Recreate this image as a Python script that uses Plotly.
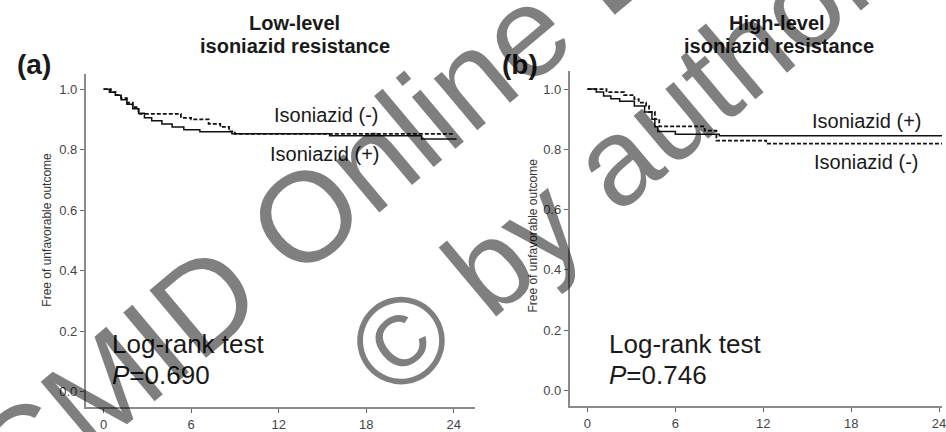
import plotly.graph_objects as go

# ---- data ----
months_ticks = [0, 6, 12, 18, 24]
surv_ticks = [0.0, 0.2, 0.4, 0.6, 0.8, 1.0]
surv_tick_labels = ["0.0", "0.2", "0.4", "0.6", "0.8", "1.0"]

# Panel (a) low-level isoniazid resistance
a_neg_t = [0, 0.5, 0.9, 1.2, 1.6, 2.0, 2.4, 5.3, 6.0, 7.2, 8.0, 8.6, 9.0, 24.0]
a_neg_s = [1.0, 0.99, 0.98, 0.97, 0.955, 0.94, 0.918, 0.905, 0.90, 0.885, 0.875, 0.86, 0.852, 0.852]
a_pos_t = [0, 0.4, 0.8, 1.2, 1.6, 2.0, 2.4, 2.8, 3.3, 4.0, 4.7, 5.5, 6.6, 8.8, 15.5, 21.8, 24.2]
a_pos_s = [1.0, 0.99, 0.98, 0.965, 0.95, 0.935, 0.92, 0.905, 0.895, 0.885, 0.875, 0.866, 0.859, 0.852, 0.846, 0.835, 0.835]

# Panel (b) high-level isoniazid resistance
b_neg_t = [0, 1.3, 2.5, 3.2, 3.5, 4.0, 4.2, 4.6, 4.9, 8.0, 8.8, 12.2, 24.2]
b_neg_s = [1.0, 0.99, 0.98, 0.967, 0.955, 0.944, 0.924, 0.90, 0.876, 0.862, 0.829, 0.819, 0.819]
b_pos_t = [0, 0.6, 1.1, 1.6, 2.2, 3.2, 3.9, 4.4, 4.6, 4.8, 6.0, 9.0, 24.2]
b_pos_s = [1.0, 0.99, 0.977, 0.968, 0.96, 0.944, 0.924, 0.90, 0.875, 0.859, 0.85, 0.845, 0.845]

FONT = "Liberation Sans, Arial, sans-serif"
W, H = 946, 432

fig = go.Figure()

def add_pair(xa, ya, neg_t, neg_s, pos_t, pos_s):
    fig.add_trace(go.Scatter(x=pos_t, y=pos_s, mode="lines", line_shape="hv",
                             line=dict(color="#111111", width=1.5),
                             xaxis=xa, yaxis=ya, showlegend=False))
    fig.add_trace(go.Scatter(x=neg_t, y=neg_s, mode="lines", line_shape="hv",
                             line=dict(color="#111111", width=1.8, dash="4px,2px"),
                             xaxis=xa, yaxis=ya, showlegend=False))

add_pair("x", "y", a_neg_t, a_neg_s, a_pos_t, a_pos_s)
add_pair("x2", "y2", b_neg_t, b_neg_s, b_pos_t, b_pos_s)

axis_common = dict(showgrid=False, zeroline=False, showline=True, linecolor="#8a8a8a",
                   linewidth=1.5, ticks="outside", ticklen=4, tickcolor="#666666",
                   ticklabeloverflow="allow",
                   tickfont=dict(family=FONT, size=13, color="#444444"))

fig.update_layout(
    width=W, height=H, margin=dict(l=0, r=0, t=0, b=0),
    paper_bgcolor="white", plot_bgcolor="white",
    xaxis=dict(domain=[86 / W, 477 / W], range=[-1.23, 25.46], tickvals=months_ticks,
               anchor="y", **axis_common),
    yaxis=dict(domain=[(H - 411) / H, (H - 75) / H], range=[-0.052, 1.049],
               tickvals=surv_ticks, ticktext=surv_tick_labels, anchor="x", **axis_common),
    xaxis2=dict(domain=[572 / W, 1.0], range=[-1.22, 24.2], tickvals=months_ticks,
                anchor="y2", **axis_common),
    yaxis2=dict(domain=[(H - 410) / H, (H - 72) / H], range=[-0.053, 1.059],
                tickvals=surv_ticks, ticktext=surv_tick_labels, anchor="x2", **axis_common),
)

def px(x, y, text, size, bold=False, xanchor="center", yanchor="middle", angle=0,
       color="#1a1a1a"):
    fig.add_annotation(x=x / W, y=(H - y) / H, xref="paper", yref="paper", text=text,
                       showarrow=False, xanchor=xanchor, yanchor=yanchor, textangle=angle,
                       font=dict(family=FONT, size=size, color=color,
                                 weight="bold" if bold else "normal"))

# panel labels and titles
px(34, 65, "(a)", 28, bold=True)
px(522, 65, "(b)", 28, bold=True)
px(296, 23, "Low-level", 20, bold=True)
px(296, 46, "isoniazid resistance", 20, bold=True)
px(780, 23, "High-level", 20, bold=True)
px(782, 46, "isoniazid resistance", 20, bold=True)

# y-axis titles
px(47, 232, "Free of unfavorable outcome", 12, angle=-90, color="#333333")
px(535, 238, "Free of unfavorable outcome", 12, angle=-90, color="#333333")

# curve labels
px(327, 116, "Isoniazid (-)", 20)
px(326, 155, "Isoniazid (+)", 20)
px(871, 122, "Isoniazid (+)", 20)
px(870, 164, "Isoniazid (-)", 20)

# log-rank text
px(110, 347, "Log-rank test", 26, xanchor="left")
px(110, 379, "<i>P</i>=0.690", 26, xanchor="left")
px(610, 347, "Log-rank test", 26, xanchor="left")
px(610, 379, "<i>P</i>=0.746", 26, xanchor="left")

# watermark (cut off at the edges, as in the reference)
px(340, 190, "CMID Online Lo", 128, angle=-40, color="rgba(0,0,0,0.5)")
px(615, 165, "© by author", 124, angle=-40, color="rgba(0,0,0,0.5)")

fig.write_html("out.html")
